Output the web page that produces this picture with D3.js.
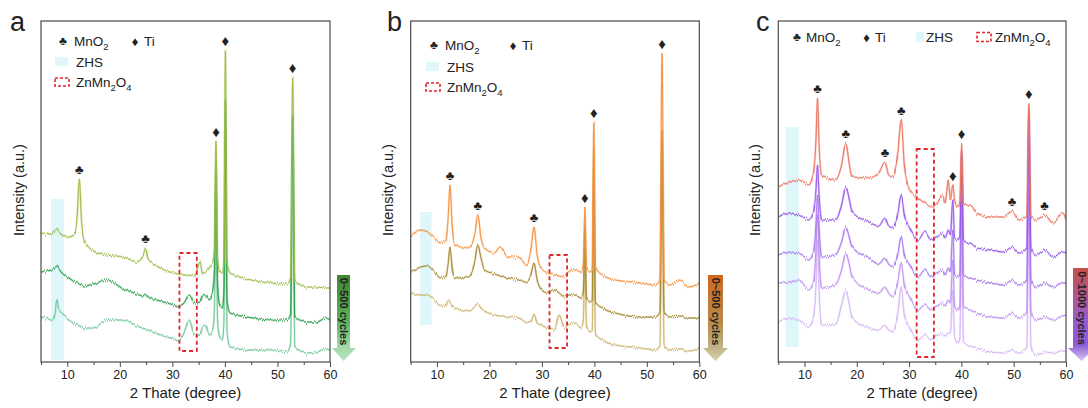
<!DOCTYPE html>
<html>
<head>
<meta charset="utf-8">
<script src="https://cdn.jsdelivr.net/npm/d3@7"></script>
<style>
  body { margin: 0; background: #fff; }
  svg { display: block; }
  text { font-family: "Liberation Sans", Arial, Helvetica, sans-serif; fill: #222; }
</style>
</head>
<body>
<svg id="chart" width="1088" height="408"></svg>
<script>
// ---- XRD scans: 2θ grids (degree) and intensities (a.u.) ----
const thetaA = [5, 6, 7, 7.6, 8, 8.4, 9, 10.3, 11.5, 11.9, 12.3, 12.7, 13.2, 15, 17.5, 20.7, 23.2, 24.4, 24.9, 25.4, 27.7, 30.2, 31.2, 32.2, 33.2, 34.2, 35.3, 35.7, 36.3, 37, 37.7, 38.0, 38.3, 38.6, 39, 39.5, 39.8, 40.1, 40.4, 41, 44.2, 49.25, 51.8, 52.5, 52.9, 53.3, 55.5, 57.5, 59.2, 60];
const scanA1 = [129, 128, 128, 131, 133, 130, 127, 125, 129, 147, 183, 142, 122, 111, 107, 105, 100, 106, 114, 103, 94, 89, 88, 87, 87, 86, 100, 88, 90, 94, 100, 112, 221, 105, 90, 89, 100, 312, 100, 89, 83, 79, 78, 84, 285, 82, 75, 75, 74, 74];
const scanA2 = [90, 91, 92, 94, 96, 93, 89, 84, 80, 79, 78, 77, 76, 78, 82, 73, 68, 66, 68, 65, 61, 57, 55, 59, 67, 59, 60, 66, 67, 62, 72, 90, 202, 80, 57, 54, 70, 262, 62, 49, 45, 42, 42, 48, 247, 46, 40, 40, 44, 42];
const scanA3 = [45, 44, 42, 46, 62, 52, 49, 42, 38, 37, 36, 35, 34, 34, 42, 42, 36, 34, 33, 32, 27, 23, 21, 29, 42, 27, 27, 34, 37, 27, 32, 52, 172, 42, 25, 22, 38, 232, 30, 15, 12, 12, 10, 18, 222, 16, 9, 10, 13, 12];

const thetaB = [5, 6, 6.9, 8.2, 9.5, 10.7, 11.7, 12.1, 12.5, 12.9, 13.4, 16, 17.2, 17.8, 18.4, 19.1, 21, 22, 23.6, 25.5, 27.1, 27.9, 28.5, 29.1, 29.8, 31.1, 32.4, 33.3, 34.3, 35, 36.2, 37.5, 37.9, 38.2, 38.5, 39.2, 39.6, 39.9, 40.2, 41.5, 44, 49.1, 51.6, 52.5, 52.9, 53.3, 54.6, 56.2, 58.1, 60];
const scanB1 = [125, 130, 132, 130, 124, 119, 122, 142, 177, 137, 117, 114, 127, 147, 124, 114, 109, 115, 105, 105, 97, 112, 135, 107, 94, 89, 87, 86, 85, 90, 92, 90, 98, 155, 94, 90, 92, 240, 95, 87, 82, 79, 77, 82, 309, 82, 77, 82, 75, 79];
const scanB2 = [90, 92, 95, 96, 90, 84, 86, 97, 115, 94, 84, 85, 100, 117, 104, 92, 88, 86, 84, 82, 80, 87, 99, 82, 73, 69, 72, 69, 65, 67, 67, 64, 70, 137, 64, 60, 62, 212, 60, 54, 49, 45, 45, 50, 232, 50, 45, 46, 44, 44];
const scanB3 = [69, 67, 67, 67, 62, 56, 57, 62, 60, 56, 54, 51, 55, 58, 54, 51, 47, 46, 45, 44, 40, 40, 48, 39, 37, 34, 32, 47, 34, 37, 39, 34, 42, 112, 36, 30, 32, 172, 28, 22, 17, 14, 12, 16, 192, 16, 12, 13, 11, 14];

const thetaC = [5, 7, 8.9, 10.8, 11.8, 12.2, 12.5, 12.8, 13.3, 15.9, 17.1, 17.9, 18.6, 19.1, 22.3, 24.2, 25.4, 26.1, 26.9, 27.8, 28.5, 29.1, 30.1, 31.7, 33, 34.2, 35.2, 36.4, 36.9, 37.5, 37.9, 38.35, 38.7, 39.3, 39.7, 40.05, 40.4, 41, 41.7, 42.9, 45.5, 48, 49.7, 51.1, 52.5, 52.9, 53.3, 54.3, 55.9, 57.5, 59.4, 60];
const scanC1 = [175, 180, 182, 177, 192, 222, 264, 217, 187, 182, 197, 219, 197, 185, 184, 189, 200, 187, 185, 207, 242, 197, 172, 164, 159, 155, 157, 167, 159, 182, 162, 177, 162, 155, 160, 219, 158, 157, 157, 149, 145, 145, 151, 142, 146, 259, 146, 142, 147, 139, 149, 142];
const scanC2 = [145, 149, 147, 142, 152, 172, 197, 167, 142, 142, 157, 175, 162, 150, 140, 136, 144, 136, 134, 147, 167, 147, 134, 122, 130, 122, 124, 129, 124, 132, 127, 162, 124, 122, 126, 212, 122, 119, 119, 114, 112, 110, 115, 109, 114, 252, 114, 107, 112, 105, 110, 109];
const scanC3 = [107, 110, 109, 102, 112, 137, 167, 134, 105, 107, 120, 135, 124, 115, 104, 98, 104, 98, 95, 107, 125, 107, 97, 85, 92, 85, 88, 92, 87, 94, 90, 132, 88, 85, 88, 187, 86, 85, 84, 82, 79, 77, 82, 77, 82, 227, 82, 75, 79, 75, 79, 79];
const scanC4 = [79, 80, 82, 72, 82, 112, 147, 107, 74, 77, 92, 109, 97, 85, 72, 69, 75, 69, 65, 79, 99, 77, 65, 52, 57, 52, 55, 59, 56, 62, 59, 102, 56, 52, 56, 162, 54, 54, 52, 49, 45, 44, 49, 44, 50, 202, 50, 42, 45, 42, 46, 47];
const scanC5 = [40, 44, 42, 35, 47, 77, 122, 72, 37, 37, 57, 72, 57, 44, 34, 32, 37, 32, 30, 47, 75, 47, 34, 22, 27, 22, 26, 28, 26, 29, 29, 72, 26, 19, 24, 132, 20, 17, 16, 14, 10, 9, 12, 9, 15, 172, 15, 7, 10, 9, 11, 10];

// reflection markers (2θ positions of the labelled peaks)
const mnO2PeaksA = [12.3, 24.9];
const tiPeaksA = [38.3, 40.1, 52.9];
const mnO2PeaksB = [12.5, 17.8, 28.5];
const tiPeaksB = [38.2, 39.9, 52.9];
const mnO2PeaksC = [12.5, 17.9, 25.4, 28.5, 49.7, 55.9];
const tiPeaksC = [38.35, 40.05, 52.9];

// ZHS band and ZnMn2O4 window (2θ ranges)
const zhsRangeA = [6.9, 9.4], spinelRangeA = [31.35, 34.65];
const zhsRangeB = [6.8, 9.0], spinelRangeB = [31.45, 34.8];
const zhsRangeC = [6.4, 8.9], spinelRangeC = [31.45, 34.75];

const xTicks = [10, 20, 30, 40, 50, 60];
const xMinorTicks = [5, 15, 25, 35, 45, 55];
const cycleLabels = ["0~500 cycles", "0~500 cycles", "0~1000 cycles"];
const panelLetters = ["a", "b", "c"];

// ---- layout ----
const svg = d3.select("#chart");
const TOP = 21, BOTTOM = 362;
const defs = svg.append("defs");

// counting-statistics texture: vertical-only jitter of the measured traces
const grain = defs.append("filter").attr("id", "grain")
  .attr("x", "-2%").attr("y", "-5%").attr("width", "104%").attr("height", "110%");
grain.append("feTurbulence").attr("type", "fractalNoise")
  .attr("baseFrequency", "1.1 0").attr("numOctaves", 2).attr("seed", 7).attr("result", "n");
grain.append("feColorMatrix").attr("in", "n").attr("type", "matrix")
  .attr("values", "0 0 0 0 0.5  0 1 0 0 0  0 0 0 0 0.5  0 0 0 0 1").attr("result", "ny");
grain.append("feDisplacementMap").attr("in", "SourceGraphic").attr("in2", "ny")
  .attr("scale", 6).attr("xChannelSelector", "R").attr("yChannelSelector", "G");

const panels = [
  {
    letter: panelLetters[0], letterX: 10, left: 41, right: 330, yTitleX: 19,
    theta: thetaA, scans: [scanA1, scanA2, scanA3],
    colors: ["#9cbc45", "#2e9f4c", "#74c79c"],
    mn: mnO2PeaksA, ti: tiPeaksA, zhs: zhsRangeA, zhsY: [199, 360],
    spinel: spinelRangeA, spinelY: [253, 351],
    legend: { rows: true, x: 55, y1: 41, tiX: 135, y2: 62, y3: 82 },
    arrow: { x0: 337, x1: 350, hx0: 332, hx1: 356, top: 275, head: 348, tip: 361,
             stops: ["#3f8530", "#5fb25e", "#9fd8a6"], headColor: "#b5e5c0" },
    cycles: cycleLabels[0]
  },
  {
    letter: panelLetters[1], letterX: 387, left: 410.7, right: 699.3, yTitleX: 388,
    theta: thetaB, scans: [scanB1, scanB2, scanB3],
    colors: ["#f7913f", "#a3892e", "#cbb46c"],
    mn: mnO2PeaksB, ti: tiPeaksB, zhs: zhsRangeB, zhsY: [212, 325],
    spinel: spinelRangeB, spinelY: [255, 348],
    legend: { rows: true, x: 426, y1: 45, tiX: 513, y2: 67, y3: 87 },
    arrow: { x0: 708, x1: 723, hx0: 703, hx1: 728, top: 275, head: 348, tip: 361,
             stops: ["#d2661c", "#b88a48", "#bdb182"], headColor: "#d7d0aa" },
    cycles: cycleLabels[1]
  },
  {
    letter: panelLetters[2], letterX: 756, left: 778.3, right: 1066, yTitleX: 755,
    theta: thetaC, scans: [scanC1, scanC2, scanC3, scanC4, scanC5],
    colors: ["#eb745f", "#9456ea", "#a776ef", "#bc90f2", "#d5b6f6"],
    mn: mnO2PeaksC, ti: tiPeaksC, zhs: zhsRangeC, zhsY: [127, 347],
    spinel: spinelRangeC, spinelY: [149, 357],
    legend: { rows: false, y: 37 },
    arrow: { x0: 1073, x1: 1090, hx0: 1068, hx1: 1095, top: 268, head: 348, tip: 361,
             stops: ["#c4504c", "#9a5cc8", "#8a5ad8"], headColor: "#d6c6f2" },
    cycles: cycleLabels[2]
  }
];

function addSub(textSel, parts) {
  parts.forEach(([s, sub], i) => {
    const t = textSel.append("tspan").text(s);
    if (sub) t.attr("font-size", "9.5px").attr("dy", 4);
    else if (i > 0) t.attr("dy", -4);
  });
}

function legendSwatchZHS(g, x, y, w, h) {
  g.append("rect").attr("x", x).attr("y", y).attr("width", w).attr("height", h)
    .attr("fill", "#dff6fb");
}
function legendSwatchSpinel(g, x, y, w, h) {
  g.append("rect").attr("x", x).attr("y", y).attr("width", w).attr("height", h)
    .attr("fill", "none").attr("stroke", "#e0262a").attr("stroke-width", 1.6)
    .attr("stroke-dasharray", "3,2");
}
function glyph(g, x, y, ch, size) {
  g.append("text").attr("x", x).attr("y", y).attr("text-anchor", "middle")
    .attr("dominant-baseline", "central").attr("font-family", "DejaVu Sans")
    .attr("font-size", size + "px").attr("fill", "#111").text(ch);
}

panels.forEach((p, pi) => {
  const g = svg.append("g");
  const x = d3.scaleLinear().domain([5, 60]).range([p.left, p.right]);
  const y = d3.scaleLinear().domain([0, 341]).range([BOTTOM, TOP]);

  const clipId = "clip" + pi;
  defs.append("clipPath").attr("id", clipId)
    .append("rect").attr("x", p.left).attr("y", TOP)
    .attr("width", p.right - p.left).attr("height", BOTTOM - TOP);

  // ZHS band
  g.append("rect")
    .attr("x", x(p.zhs[0])).attr("width", x(p.zhs[1]) - x(p.zhs[0]))
    .attr("y", p.zhsY[0]).attr("height", p.zhsY[1] - p.zhsY[0])
    .attr("fill", "#dff6fb");

  // scans, lowest first so the pristine pattern sits on top
  const line = d3.line().x(d => x(d[0])).y(d => y(d[1])).curve(d3.curveMonotoneX);
  const plot = g.append("g").attr("clip-path", `url(#${clipId})`);
  const traces = plot.append("g").attr("filter", "url(#grain)");
  p.scans.slice().reverse().forEach((s, k) => {
    const idx = p.scans.length - 1 - k;
    const pts = p.theta.map((t, i) => [t, s[i]]);
    traces.append("path").datum(pts)
      .attr("d", line).attr("fill", "none")
      .attr("stroke", p.colors[idx]).attr("stroke-opacity", 0.35)
      .attr("stroke-width", 2.2).attr("stroke-linejoin", "round");
    traces.append("path").datum(pts)
      .attr("d", line).attr("fill", "none")
      .attr("stroke", p.colors[idx]).attr("stroke-width", 1.0)
      .attr("stroke-linejoin", "round");
  });

  // ZnMn2O4 window
  g.append("rect")
    .attr("x", x(p.spinel[0])).attr("width", x(p.spinel[1]) - x(p.spinel[0]))
    .attr("y", p.spinelY[0]).attr("height", p.spinelY[1] - p.spinelY[0])
    .attr("fill", "none").attr("stroke", "#e0262a").attr("stroke-width", 1.8)
    .attr("stroke-dasharray", "4,3");

  // peak markers sit just above the pristine scan
  const top = p.scans[0];
  const valAt = t => top[p.theta.indexOf(t)];
  p.mn.forEach(t => glyph(g, x(t), y(valAt(t)) - 10, "\u2663", 13));
  p.ti.forEach(t => glyph(g, x(t), y(valAt(t)) - 10, "\u2666", 15));

  // frame
  g.append("rect").attr("x", p.left).attr("y", TOP)
    .attr("width", p.right - p.left).attr("height", BOTTOM - TOP)
    .attr("fill", "none").attr("stroke", "#4a4a4a").attr("stroke-width", 1.2);

  // x axis
  const ax = g.append("g").attr("transform", `translate(0,${BOTTOM})`)
    .call(d3.axisBottom(x).tickValues(xTicks).tickSize(5).tickPadding(3).tickFormat(d3.format("d")));
  ax.select(".domain").remove();
  ax.selectAll(".tick line").attr("stroke", "#4a4a4a");
  ax.selectAll(".tick text").attr("font-size", "12.5px")
    .attr("font-family", "Liberation Sans, Arial, sans-serif").attr("fill", "#333");
  const minor = g.append("g").attr("transform", `translate(0,${BOTTOM})`)
    .call(d3.axisBottom(x).tickValues(xMinorTicks).tickSize(3).tickFormat(""));
  minor.select(".domain").remove();
  minor.selectAll(".tick line").attr("stroke", "#4a4a4a");

  g.append("text").attr("x", (p.left + p.right) / 2).attr("y", 398)
    .attr("text-anchor", "middle").attr("font-size", "15px").attr("fill", "#333")
    .text("2 Thate (degree)");

  g.append("text")
    .attr("transform", `translate(${p.yTitleX},190) rotate(-90)`)
    .attr("text-anchor", "middle").attr("dominant-baseline", "central")
    .attr("font-size", "14.5px").attr("fill", "#333").text("Intensity (a.u.)");

  // panel letter
  g.append("text").attr("x", p.letterX).attr("y", 31)
    .attr("font-size", "27px").attr("fill", "#111").text(p.letter);

  // legend
  const L = p.legend;
  const lg = g.append("g").attr("font-size", "13.5px");
  if (L.rows) {
    glyph(lg, L.x + 8, L.y1, "\u2663", 12);
    addSub(lg.append("text").attr("x", L.x + 19).attr("y", L.y1 + 5), [["MnO", false], ["2", true]]);
    glyph(lg, L.tiX, L.y1, "\u2666", 13);
    lg.append("text").attr("x", L.tiX + 9).attr("y", L.y1 + 4.5).text("Ti");
    legendSwatchZHS(lg, L.x, L.y2 - 5, 13, 9);
    lg.append("text").attr("x", L.x + 21).attr("y", L.y2 + 4.5).text("ZHS");
    legendSwatchSpinel(lg, L.x, L.y3 - 4, 14, 8);
    addSub(lg.append("text").attr("x", L.x + 21).attr("y", L.y3 + 4.5),
      [["ZnMn", false], ["2", true], ["O", false], ["4", true]]);
  } else {
    const yy = L.y;
    glyph(lg, 797, yy, "\u2663", 12);
    addSub(lg.append("text").attr("x", 806).attr("y", yy + 5), [["MnO", false], ["2", true]]);
    glyph(lg, 866.5, yy, "\u2666", 13);
    lg.append("text").attr("x", 875).attr("y", yy + 4.5).text("Ti");
    legendSwatchZHS(lg, 916, yy - 5, 8, 10);
    lg.append("text").attr("x", 926).attr("y", yy + 4.5).text("ZHS");
    legendSwatchSpinel(lg, 977, yy - 4.5, 14, 9);
    addSub(lg.append("text").attr("x", 995).attr("y", yy + 4.5),
      [["ZnMn", false], ["2", true], ["O", false], ["4", true]]);
  }

  // cycling arrow
  const A = p.arrow;
  const gid = "arrowGrad" + pi;
  const grad = defs.append("linearGradient").attr("id", gid)
    .attr("x1", 0).attr("y1", 0).attr("x2", 0).attr("y2", 1);
  grad.append("stop").attr("offset", "0%").attr("stop-color", A.stops[0]);
  grad.append("stop").attr("offset", "55%").attr("stop-color", A.stops[1]);
  grad.append("stop").attr("offset", "82%").attr("stop-color", A.stops[2]);
  grad.append("stop").attr("offset", "100%").attr("stop-color", A.headColor);
  const cx = (A.x0 + A.x1) / 2;
  const path = d3.path();
  path.moveTo(A.x0, A.top); path.lineTo(A.x1, A.top); path.lineTo(A.x1, A.head);
  path.lineTo(A.hx1, A.head); path.lineTo(cx, A.tip); path.lineTo(A.hx0, A.head);
  path.lineTo(A.x0, A.head); path.closePath();
  g.append("path").attr("d", path.toString()).attr("fill", `url(#${gid})`);
  g.append("text")
    .attr("transform", `translate(${cx},${(A.top + A.head) / 2}) rotate(90)`)
    .attr("text-anchor", "middle").attr("dominant-baseline", "central")
    .attr("font-size", "11px").attr("font-weight", "bold").attr("fill", "#1a1a1a")
    .text(p.cycles);
});
</script>
</body>
</html>
